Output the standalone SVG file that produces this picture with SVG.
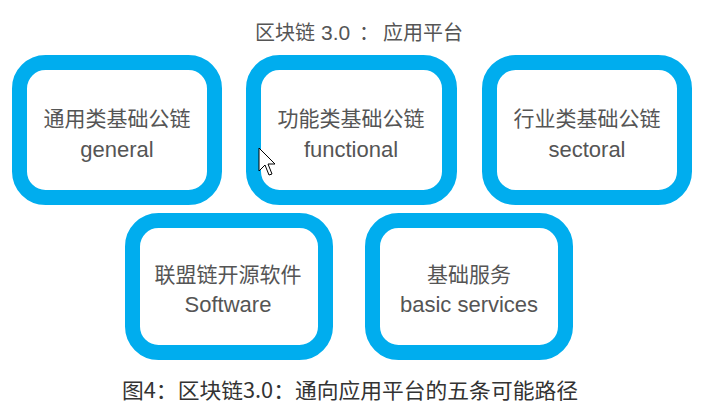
<svg xmlns="http://www.w3.org/2000/svg" width="701" height="406" viewBox="0 0 701 406">
<style>
.box{fill:#ffffff;stroke:#00adee;stroke-width:15}
.zh{font-family:"Noto Sans CJK SC","Noto Sans",sans-serif;font-size:21px;fill:#555555;text-anchor:middle}
.en{font-family:"Liberation Sans",Arial,sans-serif;font-size:22px;fill:#555555;text-anchor:middle}
.title{font-family:"Noto Sans CJK SC",sans-serif;font-size:20px;fill:#555555}
.cap{font-family:"Noto Sans CJK SC",sans-serif;font-size:21px;fill:#333333}
</style>
<rect width="701" height="406" fill="#ffffff"/>
<text class="title" y="40"><tspan x="255">区块链</tspan><tspan x="321" font-family="Liberation Sans,sans-serif" font-size="21">3.0</tspan><tspan x="359">：</tspan><tspan x="383">应用平台</tspan></text>
<g id="general">
<rect class="box" x="19.5" y="62.5" width="195" height="135" rx="26"/>
<text class="zh" x="117" y="126">通用类基础公链</text>
<text class="en" x="117" y="157">general</text>
</g>
<g id="functional">
<rect class="box" x="253.5" y="62.5" width="196" height="135" rx="26"/>
<text class="zh" x="351" y="126">功能类基础公链</text>
<text class="en" x="351" y="157">functional</text>
</g>
<g id="sectoral">
<rect class="box" x="489.5" y="62.5" width="195" height="135" rx="26"/>
<text class="zh" x="587" y="126">行业类基础公链</text>
<text class="en" x="587" y="157">sectoral</text>
</g>
<g id="software">
<rect class="box" x="132.5" y="220.5" width="193" height="132" rx="26"/>
<text class="zh" x="228" y="282">联盟链开源软件</text>
<text class="en" x="228" y="312">Software</text>
</g>
<g id="basic">
<rect class="box" x="372.5" y="220.5" width="193" height="132" rx="26"/>
<text class="zh" x="469" y="282">基础服务</text>
<text class="en" x="469" y="312">basic services</text>
</g>
<g id="connectors"></g>
<polygon points="259,148 259,171 265,165 269,175 272,174 268,164 275,164" fill="#ffffff" stroke="#000000" stroke-width="1"/>
<text class="cap" x="122" y="398" textLength="456" lengthAdjust="spacingAndGlyphs">图4：区块链3.0：通向应用平台的五条可能路径</text>
</svg>
